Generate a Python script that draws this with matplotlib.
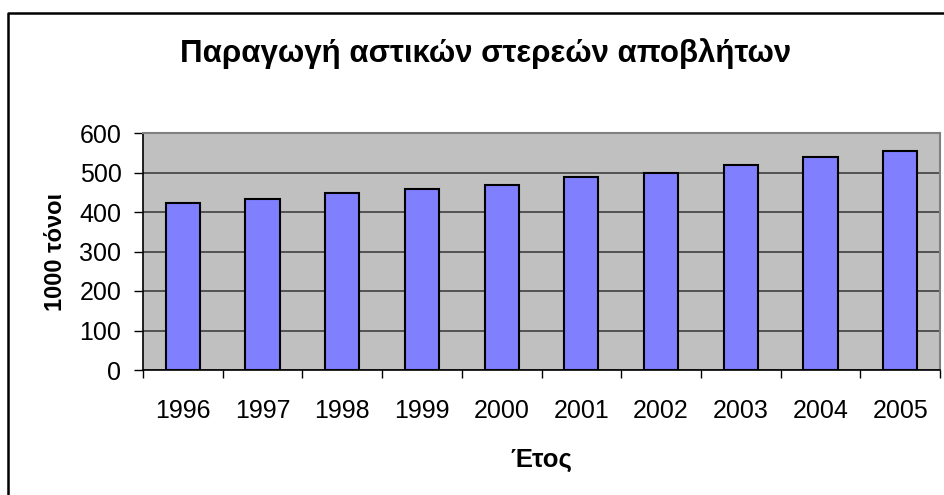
import matplotlib
matplotlib.use("Agg")
import matplotlib.pyplot as plt
from matplotlib.lines import Line2D
import numpy as np

plt.rcParams['font.family'] = ['Liberation Sans', 'DejaVu Sans']

years = ["1996", "1997", "1998", "1999", "2000", "2001", "2002", "2003", "2004", "2005"]
values = [424, 433, 449, 458, 468, 488, 498, 519, 539, 554]
yticks = [0, 100, 200, 300, 400, 500, 600]
title = "Παραγωγή αστικών στερεών αποβλήτων"
ylabel = "1000 τόνοι"
xlabel = "Έτος"

W, H = 944, 495
fig = plt.figure(figsize=(W / 100, H / 100), dpi=100)

left, right, top, bottom = 143, 940, 133, 370
ax = fig.add_axes([left / W, 1 - bottom / H, (right - left) / W, (bottom - top) / H])
ax.set_facecolor("#C0C0C0")

x = np.arange(len(years))
ax.bar(x, values, width=0.43, color="#8080FF", edgecolor="black", linewidth=1.5, zorder=3)

ax.set_xlim(-0.5, len(years) - 0.5)
ax.set_ylim(0, 600)
ax.set_yticks(yticks)
ax.set_yticklabels([str(v) for v in yticks], fontsize=18)
ax.yaxis.grid(True, color="#404040", linewidth=1.2, zorder=1)
ax.set_axisbelow(True)

ax.set_xticks(x)
ax.set_xticklabels(years, fontsize=18)
ax.set_xticks(np.arange(len(years) + 1) - 0.5, minor=True)
ax.tick_params(axis="x", which="major", length=0, pad=21)
ax.tick_params(axis="x", which="minor", length=6, width=1, color="black", direction="out")
ax.tick_params(axis="y", length=6.5, width=1, color="black", direction="out", pad=9)

for s in ["top", "right"]:
    ax.spines[s].set_color("#808080")
    ax.spines[s].set_linewidth(1.5)
for s in ["left", "bottom"]:
    ax.spines[s].set_color("black")
    ax.spines[s].set_linewidth(1.2)

fig.text(486 / W, 1 - 54 / H, title, ha="center", va="center", fontsize=22.5, fontweight="bold")
fig.text(55 / W, 1 - 252 / H, ylabel, ha="center", va="center", rotation=90, fontsize=17, fontweight="bold")
fig.text(541 / W, 1 - 460 / H, xlabel, ha="center", va="center", fontsize=18.5, fontweight="bold")

# outer chart frame (left and top edges visible)
fig.add_artist(Line2D([8 / W, 8 / W, 1.0], [0.0, 1 - 13 / H, 1 - 13 / H],
                      transform=fig.transFigure, color="black", linewidth=1.8))

fig.savefig("out.png", dpi=100)
